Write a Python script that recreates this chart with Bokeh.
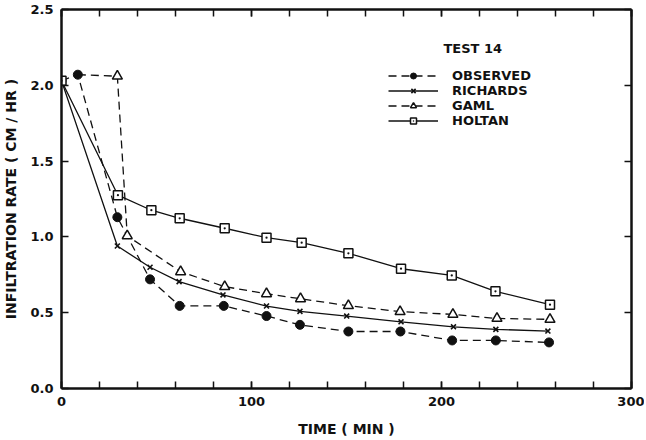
from bokeh.plotting import figure
from bokeh.models import (Range1d, LinearAxis, SingleIntervalTicker, FixedTicker,
                          Legend, LegendItem, Label, NumeralTickFormatter)
from bokeh.embed import file_html
from bokeh.resources import INLINE

# ---- data (time in minutes, infiltration rate in cm/hr) ----
obs_t = [0, 8.6, 29.4, 46.6, 62.2, 85.4, 107.9, 125.5, 151.0, 178.4, 205.6, 228.6, 256.6]
obs_r = [2.03, 2.07, 1.13, 0.72, 0.545, 0.545, 0.478, 0.42, 0.376, 0.376, 0.317, 0.317, 0.304]

ric_t = [0, 29.4, 46.6, 61.9, 85.0, 107.9, 125.5, 150.1, 178.7, 206.3, 228.6, 256.0]
ric_r = [2.03, 0.94, 0.80, 0.705, 0.617, 0.544, 0.509, 0.478, 0.44, 0.407, 0.39, 0.379]

gaml_t = [8.6, 29.4, 34.6, 62.7, 85.9, 107.9, 125.8, 151.0, 178.2, 206.0, 229.2, 257.1]
gaml_r = [2.07, 2.06, 1.007, 0.77, 0.672, 0.625, 0.592, 0.546, 0.507, 0.489, 0.462, 0.456]

hol_t = [0, 29.7, 47.3, 62.2, 85.9, 107.9, 126.4, 151.0, 178.7, 205.4, 228.4, 257.1]
hol_r = [2.03, 1.275, 1.176, 1.123, 1.057, 0.995, 0.962, 0.892, 0.79, 0.746, 0.641, 0.553]

y_ticks = [0.0, 0.5, 1.0, 1.5, 2.0, 2.5]
series_names = ["OBSERVED", "RICHARDS", "GAML", "HOLTAN"]
legend_title = "TEST 14"
x_label = "TIME ( MIN )"
y_label = "INFILTRATION RATE ( CM / HR )"

FONT = "DejaVu Sans"
INK = "#111111"

p = figure(frame_width=570, frame_height=379,
           min_border_left=53, min_border_right=13, min_border_top=9, min_border_bottom=42,
           x_range=Range1d(0, 300), y_range=Range1d(0, 2.5),
           output_backend="svg", toolbar_location=None, x_axis_type=None, y_axis_type=None)
p.grid.visible = False
p.outline_line_color = None
p.background_fill_color = "white"
p.border_fill_color = "white"

def style_axis(ax, labels=True):
    ax.axis_line_width = 2.5
    ax.axis_line_color = INK
    ax.major_tick_in = 7
    ax.major_tick_out = 0
    ax.minor_tick_in = 7
    ax.minor_tick_out = 0
    ax.major_tick_line_width = 1.5
    ax.minor_tick_line_width = 1.5
    ax.major_tick_line_color = INK
    ax.minor_tick_line_color = INK
    ax.major_label_text_font = FONT
    ax.major_label_text_font_style = "bold"
    ax.axis_label_text_font = FONT
    ax.axis_label_text_font_style = "bold"
    ax.axis_label_text_color = INK
    ax.axis_label_text_font_size = "14px"
    if labels:
        ax.major_label_text_font_size = "13px"
        ax.major_label_text_color = INK
    else:
        ax.major_label_text_font_size = "0px"
        ax.major_label_text_color = None
        ax.major_label_standoff = 0

xt = SingleIntervalTicker(interval=100, num_minor_ticks=5)
yt = FixedTicker(ticks=y_ticks)

xb = LinearAxis(ticker=xt, axis_label=x_label)
style_axis(xb)
xb.major_label_standoff = 8
xb.axis_label_standoff = 12
p.add_layout(xb, "below")

xa = LinearAxis(ticker=SingleIntervalTicker(interval=100, num_minor_ticks=5))
style_axis(xa, labels=False)
p.add_layout(xa, "above")

yl = LinearAxis(ticker=yt, axis_label=y_label, formatter=NumeralTickFormatter(format="0.0"))
style_axis(yl)
yl.major_label_standoff = 8
yl.axis_label_standoff = 8
p.add_layout(yl, "left")

yr = LinearAxis(ticker=FixedTicker(ticks=y_ticks))
style_axis(yr, labels=False)
p.add_layout(yr, "right")

DASH = "8 5"
LW = 1.3

# Observed
l_obs = p.line(obs_t, obs_r, line_color=INK, line_width=LW, line_dash=DASH)
m_obs = p.scatter(obs_t, obs_r, marker="circle", size=9, fill_color=INK, line_color=INK)
# Richards
l_ric = p.line(ric_t, ric_r, line_color=INK, line_width=LW)
m_ric = p.scatter(ric_t[1:], ric_r[1:], marker="x", size=7, line_color=INK, line_width=1.6)
# GAML
l_gaml = p.line(gaml_t, gaml_r, line_color=INK, line_width=LW, line_dash=DASH)
m_gaml = p.scatter(gaml_t[1:], gaml_r[1:], marker="triangle", size=10, fill_color="white",
                   line_color=INK, line_width=1.5)
# Holtan
l_hol = p.line(hol_t, hol_r, line_color=INK, line_width=LW)
m_hol = p.scatter(hol_t, hol_r, marker="square_dot", size=9, fill_color="white",
                  line_color=INK, line_width=1.5)

legend = Legend(items=[
    LegendItem(label=series_names[0], renderers=[l_obs, m_obs]),
    LegendItem(label=series_names[1], renderers=[l_ric, m_ric]),
    LegendItem(label=series_names[2], renderers=[l_gaml, m_gaml]),
    LegendItem(label=series_names[3], renderers=[l_hol, m_hol]),
], location=(327, 260))
legend.glyph_width = 50
legend.glyph_height = 15
legend.label_height = 15
legend.spacing = 0
legend.padding = 0
legend.margin = 0
legend.label_standoff = 14
legend.border_line_color = None
legend.background_fill_alpha = 0
legend.label_text_font = FONT
legend.label_text_font_style = "bold"
legend.label_text_font_size = "13px"
legend.label_text_color = INK
p.add_layout(legend, "center")

p.add_layout(Label(x=201, y=2.245, text=legend_title, text_font=FONT, text_font_style="bold",
                   text_font_size="13px", text_color=INK, text_baseline="middle"))

open("out.html", "w").write(file_html(p, INLINE))
